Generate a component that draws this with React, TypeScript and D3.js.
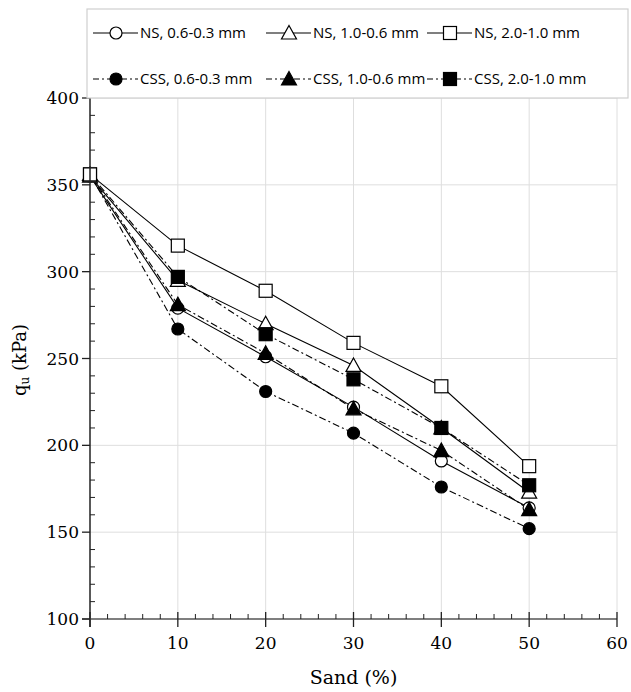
import React from "react";
import * as d3 from "d3";

const sand = [0, 10, 20, 30, 40, 50];
const ns063 = [355, 279, 251, 222, 191, 164];
const ns106 = [355, 295, 270, 246, 210, 173];
const ns210 = [356, 315, 289, 259, 234, 188];
const css063 = [356, 267, 231, 207, 176, 152];
const css106 = [356, 281, 253, 221, 197, 163];
const css210 = [356, 297, 264, 238, 210, 177];

const seriesNames = [
  "NS, 0.6-0.3 mm",
  "NS, 1.0-0.6 mm",
  "NS, 2.0-1.0 mm",
  "CSS, 0.6-0.3 mm",
  "CSS, 1.0-0.6 mm",
  "CSS, 2.0-1.0 mm",
];

const xTicks = [0, 10, 20, 30, 40, 50, 60];
const yTicks = [100, 150, 200, 250, 300, 350, 400];

type Shape = "circle" | "triangle" | "square";

const series: { name: string; values: number[]; shape: Shape; filled: boolean; dashed: boolean }[] = [
  { name: seriesNames[0], values: ns063, shape: "circle", filled: false, dashed: false },
  { name: seriesNames[1], values: ns106, shape: "triangle", filled: false, dashed: false },
  { name: seriesNames[2], values: ns210, shape: "square", filled: false, dashed: false },
  { name: seriesNames[3], values: css063, shape: "circle", filled: true, dashed: true },
  { name: seriesNames[4], values: css106, shape: "triangle", filled: true, dashed: true },
  { name: seriesNames[5], values: css210, shape: "square", filled: true, dashed: true },
];

const DASH = "7,3,2,3";

function Marker({ x, y, shape, filled }: { x: number; y: number; shape: Shape; filled: boolean }) {
  const fill = filled ? "#000" : "#fff";
  const stroke = "#000";
  if (shape === "circle") {
    return <circle cx={x} cy={y} r={6} fill={fill} stroke={stroke} strokeWidth={1.2} />;
  }
  if (shape === "square") {
    return <rect x={x - 6.5} y={y - 6.5} width={13} height={13} fill={fill} stroke={stroke} strokeWidth={1.2} />;
  }
  const s = 7.5;
  const pts = `${x},${y - s} ${x + s},${y + s * 0.8} ${x - s},${y + s * 0.8}`;
  return <polygon points={pts} fill={fill} stroke={stroke} strokeWidth={1.2} />;
}

const serifFont = "DejaVu Serif";
const sansFont = "Open Sans";

export default function App() {
  const W = 631;
  const H = 692;
  const x = d3.scaleLinear().domain([0, 60]).range([90, 617]);
  const y = d3.scaleLinear().domain([100, 400]).range([619, 98]);
  const line = d3
    .line<number>()
    .x((_, i) => x(sand[i]))
    .y((d) => y(d));

  const xMinor = d3.range(0, 60.001, 2).filter((v) => v % 10 !== 0);
  const yMinor = d3.range(100, 400.001, 10).filter((v) => v % 50 !== 0);

  const legendCols = [93, 266, 427];
  const legendRows = [33, 79];

  const drawOrder = [0, 3, 4, 1, 5, 2];

  return (
    <svg width={W} height={H} style={{ position: "absolute", left: 0, top: 0 }}>
      <rect x={0} y={0} width={W} height={H} fill="#fff" />
      {xTicks.filter((v) => v > 0).map((v) => (
        <line key={"gx" + v} x1={x(v)} x2={x(v)} y1={y(400)} y2={y(100)} stroke="#dedede" strokeWidth={1} />
      ))}
      {yTicks.filter((v) => v > 100).map((v) => (
        <line key={"gy" + v} x1={x(0)} x2={x(60)} y1={y(v)} y2={y(v)} stroke="#dedede" strokeWidth={1} />
      ))}

      {drawOrder.map((si) => {
        const s = series[si];
        return (
          <path
            key={"l" + si}
            d={line(s.values) || ""}
            fill="none"
            stroke="#000"
            strokeWidth={1.1}
            strokeDasharray={s.dashed ? DASH : undefined}
          />
        );
      })}
      {drawOrder.map((si) => {
        const s = series[si];
        return (
          <g key={"m" + si}>
            {s.values.map((v, i) => (
              <Marker key={i} x={x(sand[i])} y={y(v)} shape={s.shape} filled={s.filled} />
            ))}
          </g>
        );
      })}

      <line x1={x(0)} x2={x(0)} y1={y(400)} y2={y(100) + 8} stroke="#222" strokeWidth={1.5} />
      <line x1={x(0) - 8} x2={x(60)} y1={y(100)} y2={y(100)} stroke="#555" strokeWidth={1.5} />
      {yTicks.map((v) => (
        <line key={"yt" + v} x1={x(0) - 8} x2={x(0)} y1={y(v)} y2={y(v)} stroke="#222" strokeWidth={1.3} />
      ))}
      {yMinor.map((v) => (
        <line key={"ym" + v} x1={x(0)} x2={x(0) + 5} y1={y(v)} y2={y(v)} stroke="#222" strokeWidth={1} />
      ))}
      {xTicks.map((v) => (
        <line key={"xt" + v} x1={x(v)} x2={x(v)} y1={y(100) - 7} y2={y(100) + 8} stroke="#222" strokeWidth={1.3} />
      ))}
      {xMinor.map((v) => (
        <line key={"xm" + v} x1={x(v)} x2={x(v)} y1={y(100) - 5} y2={y(100)} stroke="#222" strokeWidth={1} />
      ))}

      {yTicks.map((v) => (
        <text key={"yl" + v} x={x(0) - 11} y={y(v)} dy="0.36em" textAnchor="end" fontFamily={serifFont} fontSize={17} fill="#000">
          {v}
        </text>
      ))}
      {xTicks.map((v) => (
        <text key={"xl" + v} x={x(v)} y={y(100) + 30} textAnchor="middle" fontFamily={serifFont} fontSize={17} fill="#000">
          {v}
        </text>
      ))}
      <text x={(x(0) + x(60)) / 2} y={684} textAnchor="middle" fontFamily={serifFont} fontSize={19} fill="#000">
        Sand (%)
      </text>
      <text
        transform={`translate(26, 360) rotate(-90)`}
        textAnchor="middle"
        fontFamily={serifFont}
        fontSize={18}
        fill="#000"
      >
        q<tspan fontSize={12} dy={3}>u</tspan>
        <tspan dy={-3}> (kPa)</tspan>
      </text>

      <rect x={87} y={9} width={541} height={89} fill="#fff" stroke="#cfcfcf" strokeWidth={1.2} />
      {series.map((s, i) => {
        const col = i % 3;
        const row = Math.floor(i / 3);
        const lx = legendCols[col];
        const ly = legendRows[row];
        return (
          <g key={"lg" + i}>
            <line
              x1={lx}
              x2={lx + 45}
              y1={ly}
              y2={ly}
              stroke="#000"
              strokeWidth={1.1}
              strokeDasharray={s.dashed ? "6,3,2,3" : undefined}
            />
            <Marker x={lx + 23} y={ly} shape={s.shape} filled={s.filled} />
            <text x={lx + 47} y={ly} dy="0.35em" fontFamily={sansFont} fontSize={15} fill="#000">
              {s.name}
            </text>
          </g>
        );
      })}
    </svg>
  );
}
